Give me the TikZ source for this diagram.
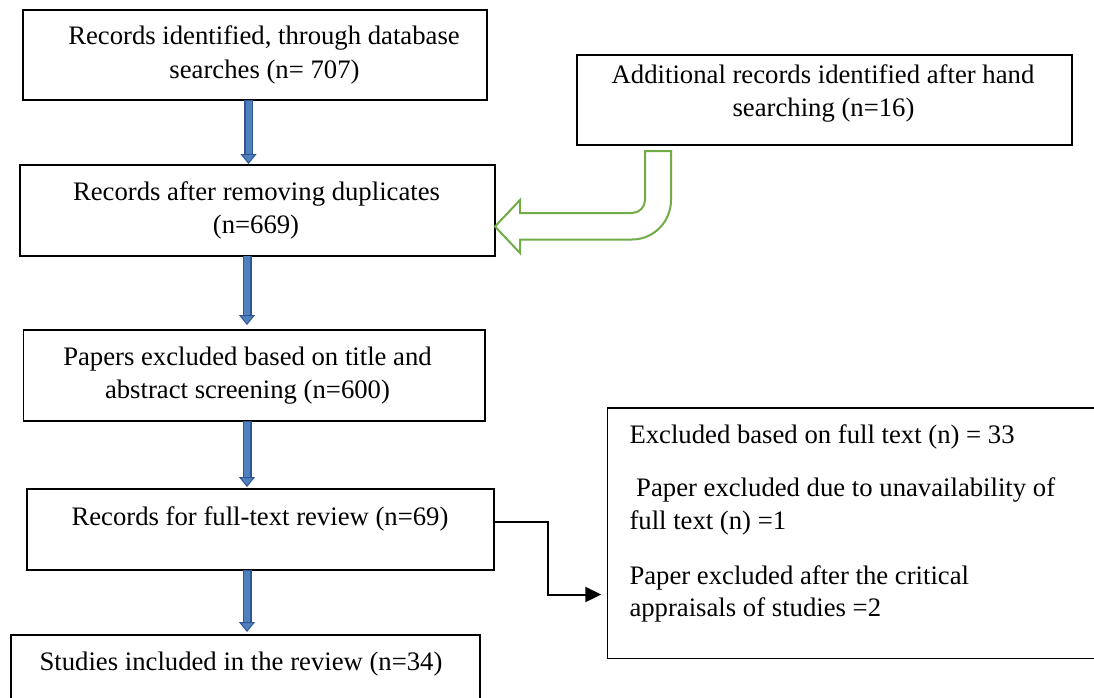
\documentclass[tikz,border=0pt]{standalone}
\usepackage{fontspec}
\setmainfont{Liberation Serif}
\usetikzlibrary{arrows.meta}
\definecolor{bluefill}{HTML}{4F81BD}
\definecolor{blueedge}{HTML}{2F5597}
\definecolor{greenline}{HTML}{70AD47}
\begin{document}
\begin{tikzpicture}[x=1pt,y=-1pt,
  box/.style={draw=black, line width=1.6pt, rectangle, inner sep=0pt, outer sep=0pt},
  txt/.style={font=\fontsize{26.7}{33.5}\selectfont, inner sep=0pt, anchor=base},
  ltxt/.style={txt, anchor=base west},
  bluearr/.style={draw=blueedge, line width=9pt, shorten >=#1pt,
    -{Triangle[length=10pt,width=16pt,line width=1pt,fill=bluefill]},
    postaction={draw=bluefill, line width=6pt, -, shorten >=#1pt+10pt, shorten <=0.5pt}},
  bluearr/.default=1,
  greenarr/.style={draw=greenline, line width=2pt, fill=white, line join=miter},
  conn/.style={draw=black, line width=2pt, -{Triangle[length=16pt,width=15pt]}, shorten >=6pt}
]
\useasboundingbox (0,0) rectangle (1094,697);
\fill[white] (0,0) rectangle (1094,697);
\clip (0,0) rectangle (1094,697);

% boxes
\node[box, minimum width=464.3pt, minimum height=90pt] (A) at (254.85,55) {};
\node[box, minimum width=495pt, minimum height=90pt] (B) at (824.5,100) {};
\node[box, minimum width=475pt, minimum height=90.7pt] (C) at (257.5,210.35) {};
\node[box, minimum width=461.7pt, minimum height=91pt] (D) at (254.15,375.5) {};
\node[box, minimum width=467.3pt, minimum height=81pt] (E) at (260.35,529.5) {};
\node[box, minimum width=502.7pt, minimum height=250.3pt] (F) at (858.65,533.15) {};
\node[box, minimum width=469pt, minimum height=85pt] (G) at (245.5,677.5) {};

% texts
\node[txt] (a1) at (264,44.5) {Records identified, through database};
\node[txt] (a2) at (264.5,78) {searches (n= 707)};
\node[txt] (b1) at (823,83.3) {Additional records identified after hand};
\node[txt] (b2) at (823.5,116.7) {searching (n=16)};
\node[txt] (c1) at (256.5,200) {Records after removing duplicates};
\node[txt] (c2) at (256,233.3) {(n=669)};
\node[txt] (d1) at (247.5,365) {Papers excluded based on title and};
\node[txt] (d2) at (247.5,398.3) {abstract screening (n=600)};
\node[txt] (e1) at (260,525.7) {Records for full-text review (n=69)};
\node[txt] (g1) at (241,670) {Studies included in the review (n=34)};
\node[ltxt] (f1) at (629.3,443.3) {Excluded based on full text (n) = 33};
\node[ltxt] (f2) at (636,496.7) {Paper excluded due to unavailability of};
\node[ltxt] (f3) at (629.3,529.3) {full text (n) =1};
\node[ltxt] (f4) at (629.3,584.3) {Paper excluded after the critical};
\node[ltxt] (f5) at (629.3,616.7) {appraisals of studies =2};

% blue block arrows
\coordinate (x1) at (248.5,0);
\coordinate (x2) at (247,0);
\draw[bluearr=1] (A.south -| x1) -- (C.north -| x1);
\draw[bluearr=5] (C.south -| x2) -- (D.north -| x2);
\draw[bluearr=2] (D.south -| x2) -- (E.north -| x2);
\draw[bluearr=3] (E.south -| x2) -- (G.north -| x2);

% green U-turn arrow from B to C
\draw[greenarr] (645,151) -- (645,200) .. controls (645,207.2) and (639.2,213) .. (632,213)
  -- (520,213) -- (520,200) -- (C.east |- 0,226.5) -- (520,253) -- (520,239.5)
  -- (632,239.5) .. controls (653.5,239.5) and (671,222) .. (671,200) -- (671,151) -- cycle;

% elbow connector E -> F
\coordinate (k1) at (548,521.5);
\coordinate (k2) at (548,594.5);
\draw[conn] (E.east |- k1) -- (k1) -- (k2) -- (F.west |- k2);
\end{tikzpicture}
\end{document}
